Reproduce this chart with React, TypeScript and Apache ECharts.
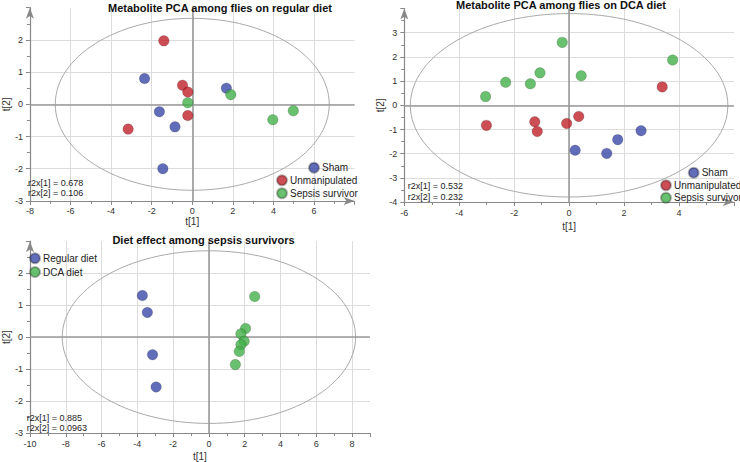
import React, { useEffect, useRef } from "react";
import * as echarts from "echarts";

// Chart 1: regular diet
const regSham = [[-2.35, 0.8], [-1.62, -0.23], [-0.85, -0.7], [-1.45, -2.0], [1.68, 0.5]];
const regUnmanip = [[-1.4, 1.97], [-0.48, 0.59], [-0.22, 0.38], [-0.22, -0.35], [-3.16, -0.77]];
const regSepsis = [[-0.22, 0.05], [1.9, 0.3], [3.97, -0.48], [4.98, -0.2]];
// Chart 2: DCA diet
const dcaSham = [[0.22, -1.86], [1.37, -1.99], [1.77, -1.42], [2.62, -1.05]];
const dcaUnmanip = [[3.39, 0.76], [-3.01, -0.83], [-1.25, -0.68], [-1.16, -1.08], [-0.09, -0.75], [0.35, -0.46]];
const dcaSepsis = [[-0.25, 2.6], [3.77, 1.87], [-1.06, 1.34], [0.44, 1.22], [-2.31, 0.95], [-1.41, 0.89], [-3.04, 0.36]];
// Chart 3: diet effect among sepsis survivors
const survRegular = [[-3.72, 1.3], [-3.44, 0.77], [-3.15, -0.55], [-2.95, -1.56]];
const survDca = [[2.56, 1.27], [2.05, 0.27], [1.79, 0.1], [1.97, -0.13], [1.79, -0.24], [1.7, -0.45], [1.48, -0.86]];

// Hotelling T2 ellipse radii [t1, t2]
const ellipse1 = [6.75, 2.67];
const ellipse2 = [5.78, 3.79];
const ellipse3 = [8.2, 2.7];

const titles = [
  "Metabolite PCA among flies on regular diet",
  "Metabolite PCA among flies on DCA diet",
  "Diet effect among sepsis survivors",
];
const r2x1 = ["r2x[1] = 0.678", "r2x[2] = 0.106"];
const r2x2 = ["r2x[1] = 0.532", "r2x[2] = 0.232"];
const r2x3 = ["r2x[1] = 0.885", "r2x[2] = 0.0963"];

const groupNames = ["Sham", "Unmanipulated", "Sepsis survivor"];
const dietNames = ["Regular diet", "DCA diet"];

const BLUE = "#3a48a8";
const RED = "#c0212b";
const GREEN = "#43b04a";
const FONT = "Liberation Sans, Arial, sans-serif";

export default function App() {
  const ref = useRef<HTMLDivElement>(null);
  useEffect(() => {
    if (!ref.current) return;
    const chart = echarts.init(ref.current, undefined, { renderer: "svg" });

    const grids = [
      { left: 25, top: 7.7, width: 329.6, height: 193.2 },
      { left: 404.3, top: 8.5, width: 329.6, height: 193.6 },
      { left: 25, top: 241.2, width: 344.9, height: 193.6 },
    ];

    const mkX = (gi: number, min: number, max: number, gap: number, arrow: boolean) => ({
      type: "value",
      gridIndex: gi,
      min,
      max,
      interval: 2,
      name: "t[1]",
      nameLocation: "middle",
      nameGap: gap,
      nameTextStyle: { fontFamily: FONT, fontSize: 10, color: "#333" },
      axisLine: {
        show: true,
        onZero: false,
        symbol: arrow ? ["none", "arrow"] : ["none", "none"],
        symbolSize: [6, 11],
        lineStyle: { color: "#888", width: 1.2 },
      },
      axisTick: { show: true, length: 4, lineStyle: { color: "#888" } },
      minorTick: { show: true, splitNumber: 2, length: 3, lineStyle: { color: "#888" } },
      axisLabel: { showMaxLabel: false, margin: 6, fontFamily: FONT, fontSize: 9, color: "#333" },
      splitLine: { show: true, showMaxLine: false, showMinLine: false, lineStyle: { color: "#dcdcdc", width: 1 } },
    });
    const mkY = (gi: number, min: number, max: number, gap: number) => ({
      type: "value",
      gridIndex: gi,
      min,
      max,
      interval: 1,
      name: "t[2]",
      nameLocation: "middle",
      nameGap: gap,
      nameTextStyle: { fontFamily: FONT, fontSize: 10, color: "#333" },
      axisLine: {
        show: true,
        onZero: false,
        symbol: ["none", "arrow"],
        symbolSize: [6, 11],
        lineStyle: { color: "#888", width: 1.2 },
      },
      axisTick: { show: true, length: 4, lineStyle: { color: "#888" } },
      minorTick: { show: true, splitNumber: 2, length: 3, lineStyle: { color: "#888" } },
      axisLabel: { showMaxLabel: false, margin: 7, fontFamily: FONT, fontSize: 9, color: "#333" },
      splitLine: { show: true, showMaxLine: false, showMinLine: false, lineStyle: { color: "#dcdcdc", width: 1 } },
    });

    const scatter = (name: string, gi: number, data: number[][], color: string, zero = false) => ({
      type: "scatter",
      name,
      xAxisIndex: gi,
      yAxisIndex: gi,
      data,
      symbol: "circle",
      symbolSize: 10.5,
      z: 5,
      itemStyle: { color, borderColor: "rgba(0,0,0,0.35)", borderWidth: 0.6 },
      markLine: zero
        ? {
            silent: true,
            symbol: ["none", "none"],
            label: { show: false },
            lineStyle: { color: "#9a9a9a", width: 1.6, type: "solid" },
            data: [{ xAxis: 0 }, { yAxis: 0 }],
          }
        : undefined,
    });

    const ellipseSeries = (gi: number, radii: number[]) => ({
      type: "custom",
      xAxisIndex: gi,
      yAxisIndex: gi,
      silent: true,
      z: 3,
      data: [[0, 0]],
      renderItem: (params: any, api: any) => {
        const c = api.coord([0, 0]);
        const s = api.size([radii[0], radii[1]]);
        return {
          type: "ellipse",
          shape: { cx: c[0], cy: c[1], rx: s[0], ry: s[1] },
          style: { fill: "none", stroke: "#aaaaaa", lineWidth: 1 },
        };
      },
    });

    const legendItem = (name: string, left: number, top: number) => ({
      data: [name],
      left,
      top,
      padding: 0,
      itemWidth: 10,
      itemHeight: 10,
      itemGap: 0,
      icon: "circle",
      selectedMode: false,
      textStyle: { fontFamily: FONT, fontSize: 10, color: "#222", padding: [0, 0, 0, -2] },
    });

    const txt = (text: string, x: number, y: number, opts: any = {}) => ({
      type: "text",
      x,
      y,
      silent: true,
      z: 10,
      style: {
        text,
        font: opts.font || `9px ${FONT}`,
        fill: opts.fill || "#222",
        textAlign: opts.align || "left",
        textVerticalAlign: "middle",
      },
    });

    chart.setOption({
      animation: false,
      backgroundColor: "#ffffff",
      grid: grids,
      xAxis: [mkX(0, -8, 8, 14, true), mkX(1, -6, 6, 19, true), mkX(2, -10, 9, 18, false)],
      yAxis: [mkY(0, -3, 3, 18), mkY(1, -4, 4, 17), mkY(2, -3, 3, 19)],
      legend: [
        legendItem(groupNames[0], 308, 161.7),
        legendItem(groupNames[1], 276, 174.3),
        legendItem(groupNames[2], 276, 187.3),
        legendItem(groupNames[0], 687.7, 166.7),
        legendItem(groupNames[1], 660, 179.3),
        legendItem(groupNames[2], 660, 191.7),
        legendItem(dietNames[0], 29, 252.3),
        legendItem(dietNames[1], 29, 266),
      ],
      series: [
        ellipseSeries(0, ellipse1),
        ellipseSeries(1, ellipse2),
        ellipseSeries(2, ellipse3),
        scatter(groupNames[0], 0, regSham, BLUE, true),
        scatter(groupNames[1], 0, regUnmanip, RED),
        scatter(groupNames[2], 0, regSepsis, GREEN),
        scatter(groupNames[0], 1, dcaSham, BLUE, true),
        scatter(groupNames[1], 1, dcaUnmanip, RED),
        scatter(groupNames[2], 1, dcaSepsis, GREEN),
        scatter(dietNames[0], 2, survRegular, BLUE, true),
        scatter(dietNames[1], 2, survDca, GREEN),
      ],
      graphic: [
        txt(titles[0], 220, 8, { font: `bold 11px ${FONT}`, fill: "#111", align: "center" }),
        txt(titles[1], 561, 4.5, { font: `bold 11px ${FONT}`, fill: "#111", align: "center" }),
        txt(titles[2], 203.5, 240, { font: `bold 11px ${FONT}`, fill: "#111", align: "center" }),
        txt(r2x1[0], 28, 182.7),
        txt(r2x1[1], 28, 193.3),
        txt(r2x2[0], 407.7, 185.7),
        txt(r2x2[1], 407.7, 197.3),
        txt(r2x3[0], 26.7, 417.7),
        txt(r2x3[1], 26.7, 428.3),
      ],
    });

    return () => chart.dispose();
  }, []);

  return (
    <div
      ref={ref}
      style={{ position: "fixed", left: 0, top: 0, width: 740, height: 462, background: "#fff" }}
    />
  );
}
